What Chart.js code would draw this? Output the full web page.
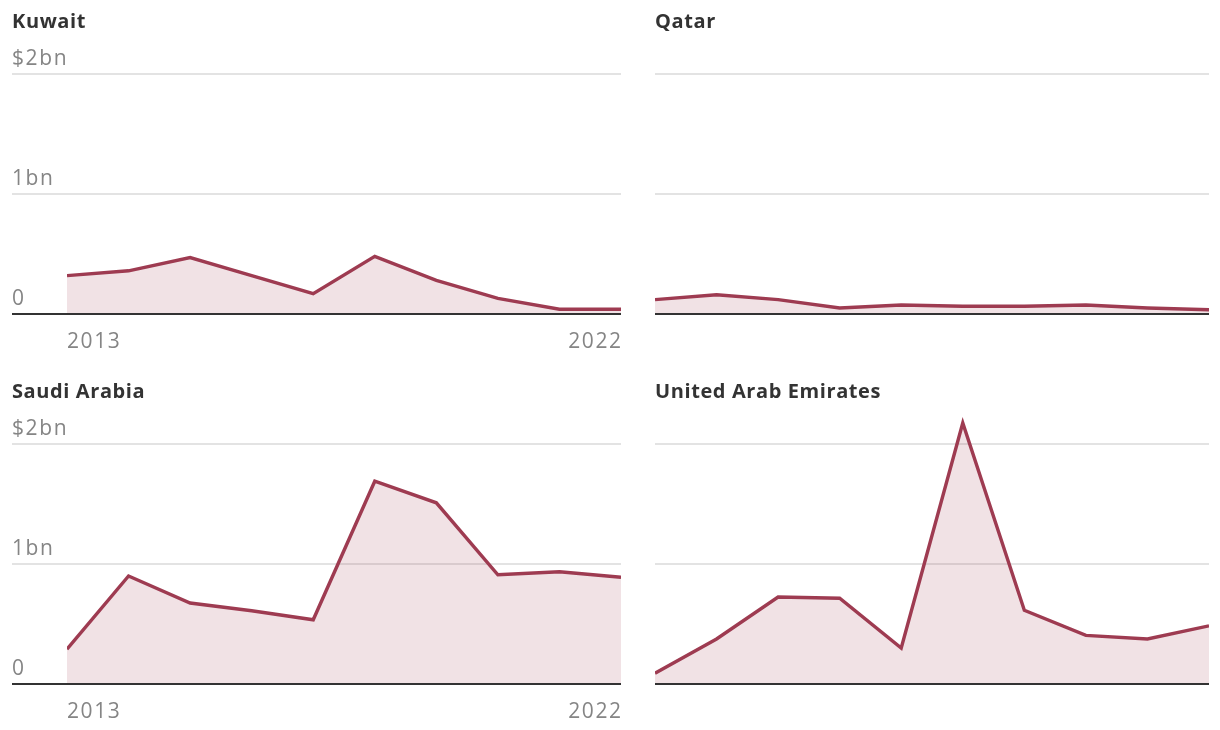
<!DOCTYPE html>
<html>
<head>
<meta charset="utf-8">
<script src="https://cdn.jsdelivr.net/npm/chart.js@4"></script>
<style>
  body { margin: 0; background: #fff; width: 1220px; height: 730px; overflow: hidden; }
  .panel { position: absolute; }
</style>
</head>
<body>
<div class="panel" style="left:0;top:0;width:640px;height:370px"><canvas id="kw"></canvas></div>
<div class="panel" style="left:640px;top:0;width:580px;height:370px"><canvas id="qa"></canvas></div>
<div class="panel" style="left:0;top:370px;width:640px;height:360px"><canvas id="sa"></canvas></div>
<div class="panel" style="left:640px;top:370px;width:580px;height:360px"><canvas id="ae"></canvas></div>
<script>
// arms imports, $bn per year
const years = [2013, 2014, 2015, 2016, 2017, 2018, 2019, 2020, 2021, 2022];
const kuwait = [0.32, 0.36, 0.47, 0.32, 0.17, 0.48, 0.28, 0.13, 0.04, 0.04];
const qatar = [0.12, 0.16, 0.12, 0.05, 0.075, 0.065, 0.065, 0.075, 0.05, 0.035];
const saudi = [0.29, 0.9, 0.675, 0.61, 0.535, 1.69, 1.51, 0.91, 0.935, 0.89];
const uae = [0.09, 0.375, 0.725, 0.715, 0.3, 2.175, 0.615, 0.405, 0.375, 0.485];
const yTicks = [0, 1, 2];
const yTickLabels = ['0', '1bn', '$2bn'];
const xTickLabels = ['2013', '2022'];

const lineColor = '#9e3b51';
const fillColor = 'rgba(158, 59, 81, 0.15)';
const font = '"Open Sans", "Noto Sans", sans-serif';

// grid, labels and title drawn with the chart's own scales
const panelDeco = {
  id: 'panelDeco',
  beforeDatasetsDraw(chart, args, opts) {
    const { ctx, chartArea, scales } = chart;
    const x0 = opts.yLabels ? 12 : chartArea.left;
    ctx.save();
    ctx.strokeStyle = '#e3e3e3';
    ctx.lineWidth = 2;
    yTicks.slice(1).forEach(v => {
      const y = Math.round(scales.y.getPixelForValue(v));
      ctx.beginPath();
      ctx.moveTo(x0, y);
      ctx.lineTo(chartArea.right, y);
      ctx.stroke();
    });
    ctx.restore();
  },
  afterDatasetsDraw(chart, args, opts) {
    const { ctx, chartArea, scales } = chart;
    const x0 = opts.yLabels ? 12 : chartArea.left;
    ctx.save();
    // baseline
    const yb = Math.round(scales.y.getPixelForValue(0));
    ctx.strokeStyle = '#333';
    ctx.lineWidth = 2;
    ctx.beginPath();
    ctx.moveTo(x0, yb);
    ctx.lineTo(chartArea.right, yb);
    ctx.stroke();

    // title
    ctx.fillStyle = '#333';
    ctx.font = 'bold 20px ' + font;
    ctx.letterSpacing = '0.6px';
    ctx.textBaseline = 'middle';
    ctx.textAlign = 'left';
    ctx.fillText(opts.title, x0, 22);

    ctx.fillStyle = '#858585';
    ctx.font = '21px ' + font;
    ctx.letterSpacing = '1.6px';
    if (opts.yLabels) {
      yTicks.forEach((v, i) => {
        ctx.fillText(yTickLabels[i], 12, scales.y.getPixelForValue(v) - 15);
      });
    }
    if (opts.xLabels) {
      const yl = yb + 28;
      ctx.textAlign = 'left';
      ctx.fillText(xTickLabels[0], scales.x.getPixelForValue(years[0]), yl);
      ctx.textAlign = 'right';
      ctx.fillText(xTickLabels[1], scales.x.getPixelForValue(years[years.length - 1]) + 1.6, yl);
    }
    ctx.restore();
  }
};

function makePanel(id, title, values, pad, yLabels, xLabels) {
  new Chart(document.getElementById(id), {
    type: 'line',
    data: {
      datasets: [{
        data: years.map((yr, i) => ({ x: yr, y: values[i] })),
        borderColor: lineColor,
        backgroundColor: fillColor,
        borderWidth: 3.4,
        fill: 'origin',
        pointRadius: 0,
        tension: 0
      }]
    },
    options: {
      responsive: true,
      maintainAspectRatio: false,
      animation: false,
      layout: { padding: pad },
      scales: {
        x: { type: 'linear', min: 2013, max: 2022, display: false },
        y: { min: 0, max: 2.3, display: false }
      },
      plugins: {
        legend: { display: false },
        tooltip: { enabled: false },
        panelDeco: { title, yLabels, xLabels }
      }
    },
    plugins: [panelDeco]
  });
}

makePanel('kw', 'Kuwait', kuwait, { left: 67, right: 19, top: 38, bottom: 56 }, true, true);
makePanel('qa', 'Qatar', qatar, { left: 15, right: 11, top: 38, bottom: 56 }, false, false);
makePanel('sa', 'Saudi Arabia', saudi, { left: 67, right: 19, top: 38, bottom: 46 }, true, true);
makePanel('ae', 'United Arab Emirates', uae, { left: 15, right: 11, top: 38, bottom: 46 }, false, false);
</script>
</body>
</html>
